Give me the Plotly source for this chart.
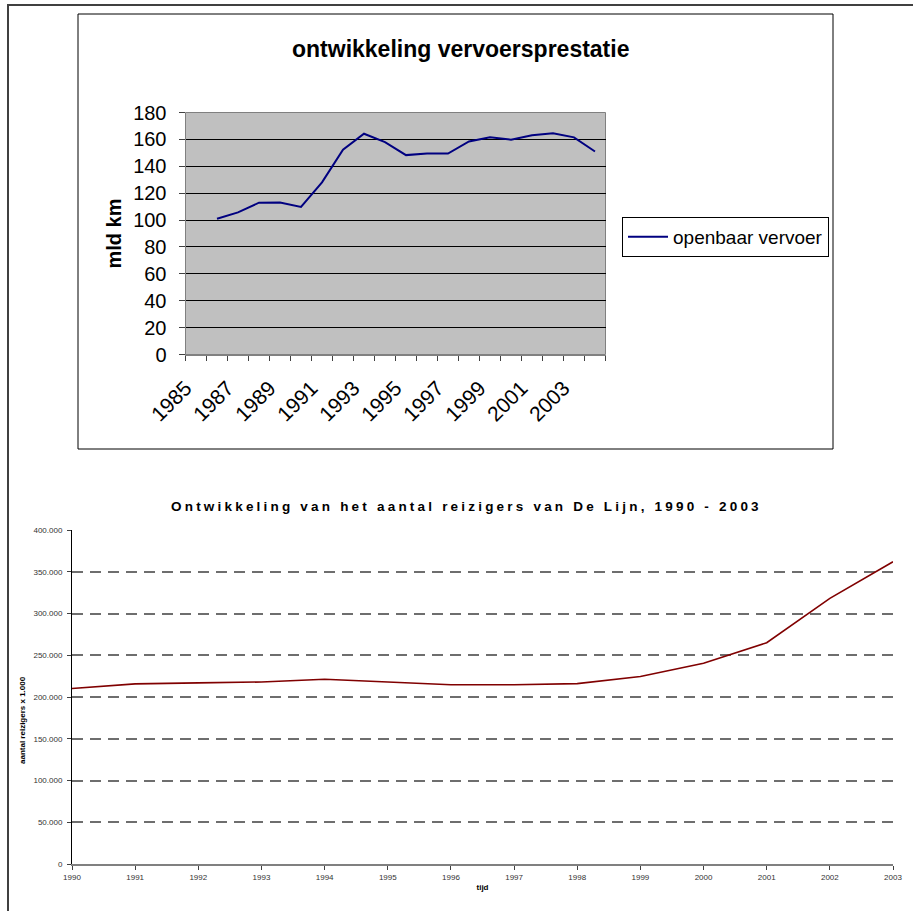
import plotly.graph_objects as go

W, H = 913, 911

# ---------------- data: top chart ----------------
top_axis_years = [1985, 1986, 1987, 1988, 1989, 1990, 1991, 1992, 1993, 1994,
                  1995, 1996, 1997, 1998, 1999, 2000, 2001, 2002, 2003, 2004]
top_years = [1986, 1987, 1988, 1989, 1990, 1991, 1992, 1993, 1994, 1995,
             1996, 1997, 1998, 1999, 2000, 2001, 2002, 2003, 2004]
top_values = [101, 105.7, 112.9, 113, 109.7, 128, 152.3, 164.2, 158, 148.3,
              149.5, 149.5, 158.5, 161.5, 159.8, 163, 164.5, 161.5, 151]
top_tick_labels = ["1985", "1987", "1989", "1991", "1993", "1995", "1997",
                   "1999", "2001", "2003"]
top_y_ticks = [0, 20, 40, 60, 80, 100, 120, 140, 160, 180]

# ---------------- data: bottom chart ----------------
bottom_years = [1990, 1991, 1992, 1993, 1994, 1995, 1996, 1997, 1998, 1999,
                2000, 2001, 2002, 2003]
bottom_values = [210200, 215700, 216900, 218000, 221200, 218000, 214700,
                 214700, 216000, 224500, 240300, 265000, 318200, 362000]
bottom_y_ticks = [0, 50000, 100000, 150000, 200000, 250000, 300000, 350000, 400000]

FONT = "Liberation Sans, Arial, sans-serif"


def fx(px):
    return px / W


def fy(py):
    return 1 - py / H


# tick positions on category boundaries for the top chart
top_tickvals = [y - 0.5 for y in top_axis_years] + [top_axis_years[-1] + 0.5]
top_ticktext = [str(int(v + 0.5)) if str(int(v + 0.5)) in top_tick_labels else ""
                for v in top_tickvals]

fig = go.Figure()

fig.add_trace(go.Scatter(
    x=top_years, y=top_values, mode="lines", name="openbaar vervoer",
    line=dict(color="#000080", width=2), xaxis="x", yaxis="y",
))

fig.add_trace(go.Scatter(
    x=bottom_years, y=bottom_values, mode="lines", name="De Lijn",
    line=dict(color="#800000", width=1.6), xaxis="x2", yaxis="y2",
    showlegend=False,
))

fig.update_layout(
    width=W, height=H,
    margin=dict(l=0, r=0, t=0, b=0, autoexpand=False),
    paper_bgcolor="white",
    plot_bgcolor="rgba(0,0,0,0)",
    separators=",.",
    font=dict(family=FONT, color="black"),
    xaxis=dict(
        domain=[fx(185.5), fx(605.5)], anchor="y", automargin=False,
        range=[top_axis_years[0] - 0.5, top_axis_years[-1] + 0.5],
        tickmode="array", tickvals=top_tickvals, ticktext=top_ticktext,
        tickangle=-45, ticks="outside", ticklen=5, tickcolor="#404040",
        showline=True, linecolor="#808080", linewidth=1,
        showgrid=False, zeroline=False,
        tickfont=dict(size=21, family=FONT), ticklabelstandoff=7,
    ),
    yaxis=dict(
        domain=[fy(354.5), fy(112.5)], anchor="x", automargin=False,
        range=[0, 180], tickmode="array", tickvals=top_y_ticks,
        ticks="outside", ticklen=6, tickcolor="#404040",
        showline=True, linecolor="#808080", linewidth=1,
        showgrid=True, gridcolor="black", gridwidth=1, zeroline=False,
        tickfont=dict(size=20, family=FONT), ticklabelstandoff=8,
        title=dict(text="<b>mld km</b>", font=dict(size=20, family=FONT), standoff=6),
    ),
    xaxis2=dict(
        domain=[fx(72), fx(893)], anchor="y2", automargin=False,
        range=[bottom_years[0], bottom_years[-1]],
        tickmode="array", tickvals=bottom_years,
        ticks="outside", ticklen=4, tickcolor="#404040",
        showline=True, linecolor="#808080", linewidth=2,
        showgrid=False, zeroline=False,
        tickfont=dict(size=8, family=FONT, color="#333333"),
        title=dict(text="<b>tijd</b>", font=dict(size=8, family=FONT), standoff=4),
    ),
    yaxis2=dict(
        domain=[fy(864), fy(530)], anchor="x2", automargin=False,
        range=[0, 400000], tickmode="array", tickvals=bottom_y_ticks,
        tickformat=",d",
        ticks="outside", ticklen=4, tickcolor="#404040",
        showline=True, linecolor="black", linewidth=1,
        showgrid=True, gridcolor="#6e6e6e", gridwidth=2, griddash="11px,7px",
        zeroline=False,
        tickfont=dict(size=8, family=FONT, color="#333333"), ticklabelstandoff=3,
    ),
    legend=dict(
        x=fx(622), y=fy(217), xanchor="left", yanchor="top",
        bgcolor="white", bordercolor="black", borderwidth=1,
        font=dict(size=19, family=FONT), itemwidth=40,
    ),
    showlegend=True,
    shapes=[
        # outer frame
        dict(type="rect", xref="paper", yref="paper",
             x0=fx(8), x1=fx(920), y0=fy(920), y1=fy(5),
             line=dict(color="#404040", width=2), layer="below"),
        # top chart box
        dict(type="rect", xref="paper", yref="paper",
             x0=fx(78), x1=fx(833), y0=fy(449), y1=fy(14),
             line=dict(color="black", width=1), layer="below"),
        # top plot area (grey background)
        dict(type="rect", xref="paper", yref="paper",
             x0=fx(185.5), x1=fx(605.5), y0=fy(354.5), y1=fy(112.5),
             fillcolor="#C0C0C0", line=dict(color="#808080", width=1), layer="below"),
    ],
    annotations=[
        dict(text="<b>ontwikkeling vervoersprestatie</b>", xref="paper", yref="paper",
             x=fx(460), y=fy(49), xanchor="center", yanchor="middle", showarrow=False,
             font=dict(size=23, family=FONT)),
        dict(text="<span style='letter-spacing:3.2px'><b>Ontwikkeling van het aantal "
                  "reizigers van De Lijn, 1990 - 2003</b></span>",
             xref="paper", yref="paper",
             x=fx(466), y=fy(507), xanchor="center", yanchor="middle", showarrow=False,
             font=dict(size=13.5, family=FONT)),
        dict(text="<b>aantal reizigers x 1.000</b>", xref="paper", yref="paper",
             x=fx(22), y=fy(720), xanchor="center", yanchor="middle", showarrow=False,
             textangle=-90, font=dict(size=8, family=FONT)),
    ],
)

fig.write_html("out.html", config={"displayModeBar": False},
               post_script="document.body.style.margin='0';")
